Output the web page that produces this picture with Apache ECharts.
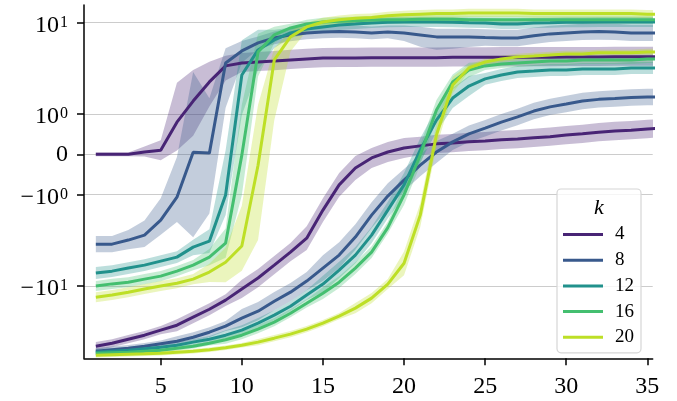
<!DOCTYPE html>
<html><head><meta charset="utf-8">
<script src="https://cdn.jsdelivr.net/npm/echarts@6/dist/echarts.min.js"></script>
<style>html,body{margin:0;padding:0;background:#fff}#c{width:677px;height:401px}</style>
</head><body><div id="c"></div>
<script>
// ---------- data ----------
const xs = [1,2,3,4,5,6,7,8,9,10,11,12,13,14,15,16,17,18,19,20,21,22,23,24,25,26,27,28,29,30,31,32,33,34,35,36];
const kNames = ['4','8','12','16','20'];
const xTicks = [5,10,15,20,25,30,35];
const yTicks = [-10,-1,0,1,10];
const yTickLabels = ['{m|\u2212}{b|10}{s|1}','{m|\u2212}{b|10}{s|0}','{z|0}','{b|10}{s|0}','{b|10}{s|1}'];

// upper family (sharp transition)
const a4  = [0,0,0,0.06,0.1,0.8,1.39,2.25,3.37,3.63,3.72,3.81,3.92,4.02,4.1,4.12,4.12,4.15,4.15,4.15,4.15,4.15,4.18,4.18,4.18,4.2,4.2,4.2,4.2,4.22,4.22,4.22,4.25,4.25,4.25,4.25];
const a8  = [-3.49,-3.49,-3.15,-2.78,-1.91,-1.07,0.05,0.03,3.63,4.91,6.01,6.82,7.36,7.74,7.94,8.03,7.94,7.74,7.94,7.74,7.36,7.0,7.0,7.0,6.9,6.82,6.82,7.2,7.55,7.74,7.94,8.03,7.94,7.74,7.74,7.74];
const a12 = [-7.21,-6.89,-6.38,-5.92,-5.35,-4.84,-3.76,-3.24,-1.01,2.68,5.04,6.49,7.74,8.55,9.0,9.46,9.7,9.95,10.1,10.2,10.2,10.2,10.1,10.0,9.95,9.7,9.7,9.95,10.0,10.1,10.1,10.2,10.2,10.2,10.2,10.2];
const a16 = [-10.0,-9.5,-9.1,-8.43,-7.81,-6.89,-5.92,-4.84,-3.4,-0.02,4.79,7.36,8.77,9.7,10.2,10.4,10.5,10.7,10.8,10.8,10.9,10.9,10.9,10.8,10.8,10.8,10.8,10.8,10.8,10.8,10.8,10.8,10.8,10.8,10.8,10.8];
const a20 = [-13.3,-12.6,-11.7,-10.8,-10.0,-9.33,-8.43,-7.05,-5.5,-3.66,-0.27,3.92,7.0,9.0,10.2,10.8,11.2,11.4,11.9,12.2,12.4,12.6,12.6,12.8,12.8,12.8,12.8,12.6,12.6,12.6,12.6,12.6,12.6,12.6,12.4,12.4];
// lower family (slow transition)
const b4  = [-45.7,-42.4,-38.3,-34.6,-30.5,-26.9,-22.0,-18.0,-14.3,-10.8,-8.2,-5.93,-4.27,-3.0,-1.48,-0.76,-0.34,-0.09,0.057,0.157,0.21,0.26,0.28,0.31,0.33,0.36,0.38,0.41,0.44,0.48,0.51,0.55,0.58,0.6,0.63,0.65];
const b8  = [-51.8,-49.9,-48.1,-45.7,-42.9,-40.3,-36.4,-32.1,-27.5,-22.5,-18.9,-14.7,-11.7,-8.85,-6.38,-4.6,-2.92,-1.68,-1.04,-0.64,-0.27,0.057,0.31,0.51,0.65,0.8,0.93,1.08,1.2,1.29,1.39,1.45,1.48,1.52,1.54,1.54];
const b12 = [-53.1,-51.8,-50.5,-48.6,-46.9,-44.5,-41.2,-38.3,-34.6,-30.5,-25.5,-20.9,-16.7,-12.6,-9.55,-6.71,-4.6,-2.78,-1.48,-0.76,0.107,0.85,1.5,2.03,2.43,2.68,2.89,2.96,3.04,3.04,3.12,3.12,3.12,3.2,3.2,3.2];
const b16 = [-54.5,-53.8,-53.1,-51.8,-50.5,-48.1,-45.7,-42.4,-38.8,-34.6,-29.7,-24.9,-19.9,-15.5,-12.0,-9.1,-6.38,-4.27,-2.3,-1.01,-0.017,1.11,2.25,3.04,3.37,3.54,3.63,3.72,3.81,3.81,3.92,3.92,3.92,3.92,4.02,4.02];
const b20 = [-57.3,-56.6,-55.9,-55.2,-54.5,-53.1,-51.8,-49.9,-47.4,-44.5,-41.2,-37.3,-33.7,-29.7,-25.5,-21.4,-17.5,-13.6,-9.55,-5.65,-1.68,0.48,2.08,3.2,3.72,4.02,4.23,4.33,4.44,4.56,4.56,4.68,4.68,4.68,4.79,4.79];

// band spreads (in decades of the symlog scale), upper / lower side
const a4Up  = [0.02,0.02,0.02,0.06,0.11,0.43,0.34,0.22,0.11,0.11,0.11,0.11,0.11,0.11,0.11,0.11,0.11,0.11,0.11,0.11,0.11,0.11,0.11,0.11,0.11,0.11,0.11,0.11,0.11,0.11,0.11,0.11,0.11,0.11,0.11,0.11];
const a4Dn  = [0.02,0.02,0.02,0.05,0.11,0.31,0.38,0.27,0.16,0.1,0.1,0.1,0.1,0.1,0.1,0.1,0.1,0.1,0.1,0.1,0.1,0.1,0.1,0.1,0.1,0.1,0.1,0.1,0.1,0.1,0.1,0.1,0.1,0.1,0.1,0.1];
const a8Up  = [0.09,0.09,0.11,0.16,0.24,0.44,0.88,0.6,0.16,0.11,0.07,0.07,0.07,0.07,0.07,0.07,0.07,0.07,0.07,0.08,0.09,0.09,0.09,0.09,0.09,0.09,0.09,0.09,0.09,0.09,0.09,0.09,0.09,0.09,0.09,0.09];
const a8Dn  = [0.09,0.09,0.1,0.13,0.16,0.27,0.93,0.66,0.49,0.13,0.07,0.07,0.07,0.07,0.07,0.07,0.07,0.07,0.07,0.09,0.13,0.14,0.13,0.11,0.09,0.09,0.09,0.09,0.09,0.09,0.09,0.09,0.09,0.09,0.09,0.09];
const a12Up = [0.065,0.065,0.065,0.065,0.065,0.065,0.08,0.13,0.49,0.38,0.22,0.11,0.055,0.055,0.055,0.055,0.055,0.055,0.055,0.055,0.055,0.055,0.055,0.055,0.055,0.055,0.055,0.055,0.055,0.055,0.055,0.055,0.055,0.055,0.055,0.055];
const a12Dn = [0.065,0.065,0.065,0.065,0.065,0.065,0.09,0.13,0.22,0.44,0.22,0.09,0.055,0.055,0.055,0.055,0.055,0.055,0.055,0.055,0.055,0.055,0.055,0.055,0.055,0.055,0.055,0.055,0.055,0.055,0.055,0.055,0.055,0.055,0.055,0.055];
const a16Up = [0.055,0.055,0.055,0.055,0.055,0.055,0.055,0.09,0.16,0.55,0.2,0.09,0.045,0.045,0.045,0.045,0.045,0.045,0.045,0.045,0.045,0.045,0.045,0.045,0.045,0.045,0.045,0.045,0.045,0.045,0.045,0.045,0.045,0.045,0.045,0.045];
const a16Dn = [0.055,0.055,0.055,0.055,0.055,0.055,0.055,0.09,0.16,0.44,0.27,0.09,0.045,0.045,0.045,0.045,0.045,0.045,0.045,0.045,0.045,0.045,0.045,0.045,0.045,0.045,0.045,0.045,0.045,0.045,0.045,0.045,0.045,0.045,0.045,0.045];
const a20Up = [0.055,0.055,0.055,0.055,0.055,0.055,0.055,0.09,0.16,0.44,0.66,0.13,0.065,0.045,0.045,0.045,0.045,0.045,0.045,0.045,0.045,0.045,0.045,0.045,0.045,0.045,0.045,0.045,0.045,0.045,0.045,0.045,0.045,0.045,0.045,0.045];
const a20Dn = [0.055,0.055,0.055,0.055,0.055,0.055,0.055,0.11,0.22,0.27,0.82,0.66,0.16,0.045,0.045,0.045,0.045,0.045,0.045,0.045,0.045,0.045,0.045,0.045,0.045,0.045,0.045,0.045,0.045,0.045,0.045,0.045,0.045,0.045,0.045,0.045];
const b4Sp  = [0.045,0.045,0.045,0.045,0.045,0.065,0.065,0.065,0.065,0.1,0.1,0.1,0.1,0.13,0.13,0.13,0.13,0.11,0.11,0.11,0.1,0.1,0.1,0.1,0.1,0.1,0.1,0.1,0.1,0.1,0.1,0.1,0.1,0.1,0.1,0.1];
const b8Sp  = [0.035,0.035,0.035,0.035,0.035,0.055,0.055,0.055,0.055,0.1,0.1,0.1,0.1,0.1,0.14,0.14,0.14,0.14,0.14,0.12,0.12,0.12,0.09,0.09,0.09,0.09,0.09,0.09,0.09,0.09,0.09,0.09,0.09,0.09,0.09,0.09];
const b12Sp = [0.035,0.035,0.035,0.035,0.035,0.035,0.035,0.035,0.055,0.055,0.055,0.055,0.055,0.055,0.09,0.09,0.09,0.09,0.09,0.13,0.13,0.13,0.11,0.11,0.065,0.065,0.065,0.065,0.065,0.065,0.065,0.065,0.065,0.065,0.065,0.065];
const b16Sp = [0.025,0.025,0.025,0.025,0.025,0.025,0.025,0.025,0.045,0.045,0.045,0.045,0.045,0.045,0.065,0.065,0.065,0.065,0.065,0.11,0.11,0.11,0.08,0.08,0.045,0.045,0.045,0.045,0.045,0.045,0.045,0.045,0.045,0.045,0.045,0.045];
const b20Sp = [0.025,0.025,0.025,0.025,0.025,0.025,0.025,0.025,0.025,0.025,0.035,0.035,0.035,0.035,0.035,0.035,0.055,0.055,0.055,0.13,0.13,0.13,0.09,0.035,0.035,0.035,0.035,0.035,0.035,0.035,0.035,0.035,0.035,0.035,0.035,0.035];

// ---------- styling ----------
const colors = ['#482475','#38598c','#21918c','#44bf70','#bddf26'];
const FONT = 'Liberation Serif';
const SYM_A = 0.44; // symlog: linear part scale relative to one decade

function sl(v){ const m = Math.abs(v); const t = m <= 1 ? SYM_A*m : SYM_A + Math.log10(m); return v < 0 ? -t : t; }

const curves = [
  {k:0, mean:a4,  up:a4Up,  dn:a4Dn}, {k:1, mean:a8,  up:a8Up,  dn:a8Dn},
  {k:2, mean:a12, up:a12Up, dn:a12Dn},{k:3, mean:a16, up:a16Up, dn:a16Dn},
  {k:4, mean:a20, up:a20Up, dn:a20Dn},
  {k:0, mean:b4,  up:b4Sp,  dn:b4Sp}, {k:1, mean:b8,  up:b8Sp,  dn:b8Sp},
  {k:2, mean:b12, up:b12Sp, dn:b12Sp},{k:3, mean:b16, up:b16Sp, dn:b16Sp},
  {k:4, mean:b20, up:b20Sp, dn:b20Sp}
];

const series = [];
curves.forEach((c, ci) => {
  const data = xs.map((x,i) => [x, sl(c.mean[i]) + c.up[i], sl(c.mean[i]) - c.dn[i]]);
  series.push({
    type:'custom', name:'band'+ci, silent:true, clip:true, z:1,
    data: data, encode:{x:0, y:[1,2]},
    renderItem: function(params, api){
      if (params.dataIndex !== 0) return null;
      const pts = [];
      for (let i=0;i<data.length;i++) pts.push(api.coord([data[i][0], data[i][1]]));
      for (let i=data.length-1;i>=0;i--) pts.push(api.coord([data[i][0], data[i][2]]));
      return {type:'polygon', shape:{points:pts}, style:{fill:colors[c.k], opacity:0.3}};
    }
  });
});
curves.forEach((c) => {
  series.push({
    type:'line', name:kNames[c.k], color:colors[c.k], showSymbol:false, clip:true, z:3,
    lineStyle:{width:3, color:colors[c.k]},
    data: xs.map((x,i) => [x, sl(c.mean[i])])
  });
});

const yT = yTicks.map(sl);
const chart = echarts.init(document.getElementById('c'), null, {renderer:'canvas'});
chart.setOption({
  animation:false,
  backgroundColor:'#ffffff',
  grid:{left:84, right:24.3, top:5, bottom:42.7, containLabel:false},
  xAxis:{
    type:'value', min:0.27, max:35.33,
    axisLine:{show:true, onZero:false, lineStyle:{color:'#000', width:1.5}},
    axisTick:{show:true, customValues:xTicks, length:7, lineStyle:{color:'#000', width:1.5}},
    axisLabel:{customValues:xTicks, color:'#000', fontFamily:FONT, fontSize:24, margin:16},
    splitLine:{show:false}
  },
  yAxis:{
    type:'value', min:-2.232, max:1.634,
    axisLine:{show:true, onZero:false, lineStyle:{color:'#000', width:1.5}},
    axisTick:{show:true, customValues:yT, length:7, lineStyle:{color:'#000', width:1.5}},
    axisLabel:{
      customValues:yT, color:'#000', margin:16,
      formatter:function(v){ let best=0, d=1e9; yT.forEach((t,i)=>{ if (Math.abs(t-v)<d){d=Math.abs(t-v);best=i;} }); return yTickLabels[best]; },
      rich:{
        m:{fontFamily:FONT, fontSize:24, lineHeight:24, color:'#000', padding:[6,1,0,0]},
        b:{fontFamily:FONT, fontSize:24, lineHeight:24, color:'#000', padding:[6,0,0,0]},
        s:{fontFamily:FONT, fontSize:16, lineHeight:16, color:'#000', verticalAlign:'top', padding:[4,0,0,1]},
        z:{fontFamily:FONT, fontSize:24, lineHeight:24, color:'#000'}
      }
    },
    splitLine:{show:true, lineStyle:{color:'#cccccc', width:1.2}}
  },
  legend:{
    data:kNames, orient:'vertical', left:557, top:189, selectedMode:false,
    padding:[36,7,6,6], itemWidth:40, itemHeight:3, itemGap:6.7, icon:'rect',
    backgroundColor:'rgba(255,255,255,0.8)', borderColor:'#d6d6d6', borderWidth:1.2, borderRadius:4,
    textStyle:{fontFamily:FONT, fontSize:19, lineHeight:18, color:'#000', padding:[0,0,0,7]}
  },
  graphic:[{type:'text', left:594, top:197, z:100,
    style:{text:'k', font:'italic 22px "Liberation Serif"', fill:'#000'}}],
  series: series
});
</script></body></html>
